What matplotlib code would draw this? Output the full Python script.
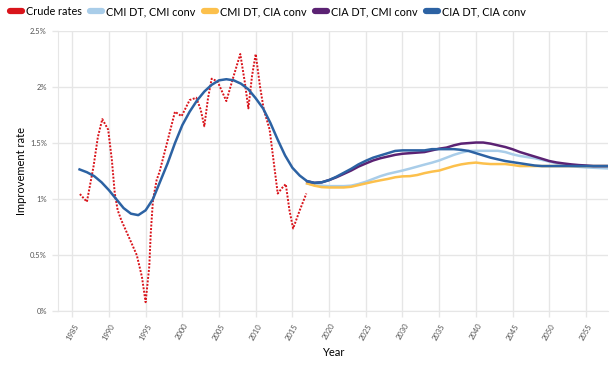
import matplotlib
matplotlib.use("Agg")
from matplotlib import pyplot as plt
from matplotlib.lines import Line2D
from matplotlib.ticker import FuncFormatter
import numpy as np

plt.rcParams['font.family'] = ['Lato', 'DejaVu Sans']

# crude rates (historical, red dotted)
crude_years = [1986.05, 1987.0, 1987.9, 1988.5, 1989.1, 1989.9, 1990.4, 1990.8, 1991.2, 1991.7,
               1992.9, 1993.8, 1994.5, 1995.0, 1995.5, 1995.7, 1996.0, 1996.5, 1996.9, 1997.9,
               1999.0, 1999.9, 2001.0, 2001.9, 2002.5, 2003.0, 2003.5, 2004.0, 2004.8, 2006.0,
               2007.0, 2007.9, 2008.5, 2009.0, 2009.5, 2010.0, 2010.6, 2011.1, 2011.9, 2012.4,
               2013.0, 2013.6, 2014.1, 2014.6, 2015.1, 2016.0, 2016.9]
crude_rates = [1.045, 0.976, 1.29, 1.556, 1.714, 1.62, 1.35, 1.05, 0.90, 0.81,
               0.634, 0.50, 0.306, 0.08, 0.40, 0.694, 0.99, 1.17, 1.244, 1.497,
               1.78, 1.74, 1.884, 1.905, 1.80, 1.65, 1.90, 2.075, 2.05, 1.875,
               2.10, 2.295, 2.05, 1.81, 2.10, 2.295, 2.00, 1.80, 1.62, 1.36,
               1.05, 1.10, 1.134, 0.90, 0.738, 0.90, 1.05]

# CIA DT, CIA conv (full range, 1986-2058)
cia_years = list(range(1986, 2059))
cia_cia = [1.265, 1.24, 1.205, 1.15, 1.08, 1.00, 0.92, 0.87, 0.857, 0.90,
           1.00, 1.16, 1.32, 1.50, 1.66, 1.78, 1.88, 1.96, 2.02, 2.06,
           2.07, 2.06, 2.03, 1.98, 1.90, 1.81, 1.68, 1.53, 1.39, 1.28,
           1.21, 1.16, 1.145, 1.15, 1.17, 1.20, 1.235, 1.27, 1.31, 1.342,
           1.37, 1.39, 1.41, 1.43, 1.435, 1.435, 1.435, 1.435, 1.446, 1.446,
           1.446, 1.446, 1.44, 1.43, 1.41, 1.39, 1.37, 1.355, 1.34, 1.33,
           1.32, 1.31, 1.30, 1.295, 1.295, 1.295, 1.295, 1.295, 1.295, 1.295,
           1.295, 1.295, 1.295]

# projections 2017-2058
proj_years = list(range(2017, 2059))
cmi_cmi = [1.14, 1.125, 1.12, 1.116, 1.116, 1.116, 1.12, 1.135, 1.155, 1.18,
           1.205, 1.225, 1.24, 1.255, 1.272, 1.29, 1.308, 1.325, 1.345, 1.37,
           1.395, 1.415, 1.43, 1.431, 1.431, 1.431, 1.431, 1.42, 1.40, 1.385,
           1.375, 1.365, 1.35, 1.335, 1.318, 1.305, 1.295, 1.288, 1.283, 1.28,
           1.277, 1.274]
cmi_cia = [1.14, 1.12, 1.107, 1.104, 1.104, 1.104, 1.11, 1.125, 1.14, 1.155,
           1.168, 1.18, 1.195, 1.203, 1.205, 1.215, 1.232, 1.245, 1.255, 1.275,
           1.295, 1.31, 1.32, 1.326, 1.318, 1.313, 1.313, 1.313, 1.305, 1.295,
           1.295, 1.295, 1.295, 1.295, 1.295, 1.295, 1.295, 1.295, 1.295, 1.295,
           1.295, 1.295]
cia_cmi = [1.16, 1.145, 1.15, 1.17, 1.195, 1.225, 1.255, 1.29, 1.318, 1.345,
           1.365, 1.38, 1.395, 1.405, 1.41, 1.415, 1.42, 1.435, 1.45, 1.46,
           1.48, 1.495, 1.50, 1.505, 1.505, 1.495, 1.48, 1.465, 1.445, 1.42,
           1.40, 1.38, 1.36, 1.34, 1.327, 1.318, 1.31, 1.304, 1.30, 1.295,
           1.295, 1.295]

labels = ["Crude rates", "CMI DT, CMI conv", "CMI DT, CIA conv", "CIA DT, CMI conv", "CIA DT, CIA conv"]
colors = ["#d9141b", "#a9cde9", "#fcc04c", "#5b2273", "#2c62a3"]
xticks = list(range(1985, 2060, 5))

fig = plt.figure(figsize=(6.16, 3.74), dpi=100)
ax = fig.add_axes([0.094, 0.168, 0.893, 0.749])

ax.plot(crude_years, crude_rates, color=colors[0], linestyle=(0, (1, 0.8)), linewidth=1.4, zorder=3)
ax.plot(proj_years, cmi_cmi, color=colors[1], linewidth=1.8, zorder=4)
ax.plot(proj_years, cmi_cia, color=colors[2], linewidth=1.8, zorder=5)
ax.plot(proj_years, cia_cmi, color=colors[3], linewidth=1.8, zorder=6)
ax.plot(cia_years, cia_cia, color=colors[4], linewidth=1.8, zorder=7)

ax.set_xlim(1983.05, 2058)
ax.set_ylim(0, 2.5)
ax.set_xticks(xticks)
ax.set_xticklabels([str(y) for y in xticks], rotation=60, fontsize=5.5, color="#555555", ha="center")
ax.set_yticks([0, 0.5, 1, 1.5, 2, 2.5])
ax.yaxis.set_major_formatter(FuncFormatter(lambda v, p: ("%g" % v) + "%"))
ax.tick_params(axis="y", labelsize=5.5, labelcolor="#555555")
ax.tick_params(length=4.5, color="#e6e6e6", width=1)
ax.grid(True, color="#e6e6e6", linewidth=1)
ax.set_axisbelow(True)
for s in ["top", "right"]:
    ax.spines[s].set_visible(False)
for s in ["left", "bottom"]:
    ax.spines[s].set_color("#e6e6e6")

ax.set_xlabel("Year", fontsize=8, labelpad=4)
ax.set_ylabel("Improvement rate", fontsize=8, labelpad=2)

handles = [Line2D([], [], color=c, linewidth=4.5, solid_capstyle="round") for c in colors]
fig.legend(handles, labels, loc="upper left", bbox_to_anchor=(0.0, 1.01), ncol=5, frameon=False,
           fontsize=7.8, handlelength=1.1, handletextpad=0.4, columnspacing=0.75)

fig.savefig("out.png", dpi=100)
